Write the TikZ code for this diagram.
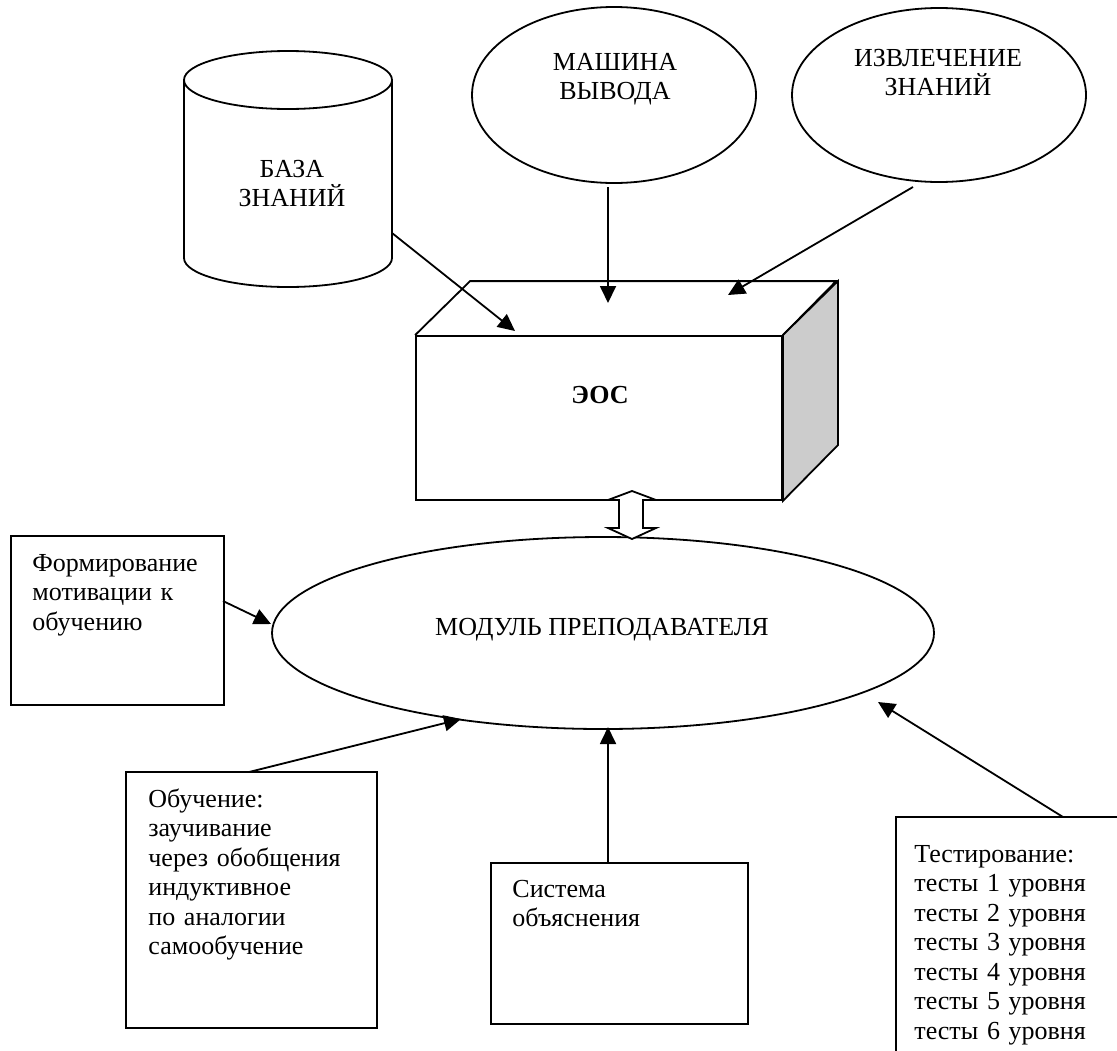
\documentclass[tikz,border=0pt]{standalone}
\usepackage{fontspec}
\setmainfont{Liberation Serif}
\usetikzlibrary{arrows.meta,shapes.geometric}

\tikzset{
  line/.style={line width=0.9pt},
  arr/.style={line, -{Triangle[length=8.5pt,width=8pt]}},
  frame/.style={draw, line width=0.9pt, inner sep=0pt},
  oval/.style={frame, ellipse},
  txt/.style={font=\fontsize{13}{14.75}\selectfont, inner sep=0pt},
  boldtxt/.style={font=\fontsize{13}{14.75}\selectfont\bfseries, inner sep=0pt},
}

\begin{document}
\begin{tikzpicture}[x=0.5pt,y=-0.5pt]
\path[use as bounding box] (0,0) rectangle (1117,1050);
\clip (0,0) rectangle (1117,1050);

\coordinate (kbA) at (392,233);
\coordinate (eosA) at (515,331);
\coordinate (mashA) at (608,187);
\coordinate (eosB) at (608,303);
\coordinate (izvA) at (913,187);
\coordinate (eosC) at (728,295);
\coordinate (motA) at (223,601);
\coordinate (modA) at (271,624);
\coordinate (obA) at (249,772);
\coordinate (modB) at (461,719);
\coordinate (sysA) at (608,863);
\coordinate (modC) at (608,727);
\coordinate (testA) at (1063,817);
\coordinate (modD) at (878,702);

% knowledge base
\draw[line] (184,80) -- (184,258) arc[start angle=180, end angle=360, x radius=52pt, y radius=14.5pt] -- (392,80);
\draw[line] (288,80) ellipse[x radius=52pt, y radius=14.5pt];
\node[txt, text width=100pt, align=center, anchor=base] (kb) at (292,177) {БАЗА\\ЗНАНИЙ};

\node[oval, minimum width=142pt, minimum height=88pt] (mash) at (614,95) {};
\node[txt, text width=100pt, align=center, anchor=base] at (615,70) {МАШИНА\\ВЫВОДА};
\node[oval, minimum width=147pt, minimum height=87pt] (izv) at (939,95) {};
\node[txt, text width=100pt, align=center, anchor=base] at (938,66) {ИЗВЛЕЧЕНИЕ\\ЗНАНИЙ};

% box
\node[frame, minimum width=183pt, minimum height=82pt] (eos) at (599,418) {};
\draw[line] (eos.north west) -- ++(55,-54) -- ++(366,0) -- (eos.north east);
\filldraw[line, fill=gray!40] (eos.north east) -- ++(55,-54) -- ++(0,164) -- (eos.south east) -- cycle;
\node[boldtxt, anchor=base] at (600,403) {ЭОС};

\node[oval, minimum width=331pt, minimum height=96pt] (modul) at (603,633) {};
\node[txt, anchor=base] at (602,635) {МОДУЛЬ ПРЕПОДАВАТЕЛЯ};

\draw[line, fill=white] (632,491) -- (656,500) -- (643,500) -- (643,528) -- (656,528) -- (632,539)
  -- (608,528) -- (619,528) -- (619,500) -- (608,500) -- cycle;

\node[frame, minimum width=106.5pt, minimum height=84.5pt] (motiv) at (117.5,620.5) {};
\node[txt, text width=95pt, align=left, anchor=base west] at (32,571) {Формирование\\мотивации к\\обучению};

\node[frame, minimum width=125.5pt, minimum height=128pt] (obuch) at (251.5,900) {};
\node[txt, text width=105pt, align=left, anchor=base west] at (148,807)
  {Обучение:\\заучивание\\через обобщения\\индуктивное\\по аналогии\\самообучение};

\node[frame, minimum width=128.5pt, minimum height=80.5pt] (sys) at (619.5,943.5) {};
\node[txt, text width=105pt, align=left, anchor=base west] at (512,897) {Система\\объяснения};

\node[frame, minimum width=122pt, minimum height=126.5pt] (test) at (1018,943.5) {};
\node[txt, text width=100pt, align=left, anchor=base west] at (914,862)
  {Тестирование:\\тесты 1 уровня\\тесты 2 уровня\\тесты 3 уровня\\тесты 4 уровня\\тесты 5 уровня\\тесты 6 уровня};

\draw[arr] (kbA) -- (eosA);
\draw[arr] (mashA) -- (eosB);
\draw[arr] (izvA) -- (eosC);
\draw[arr] (motA) -- (modA);
\draw[arr] (obA) -- (modB);
\draw[arr] (sysA) -- (modC);
\draw[arr] (testA) -- (modD);
\end{tikzpicture}
\end{document}
